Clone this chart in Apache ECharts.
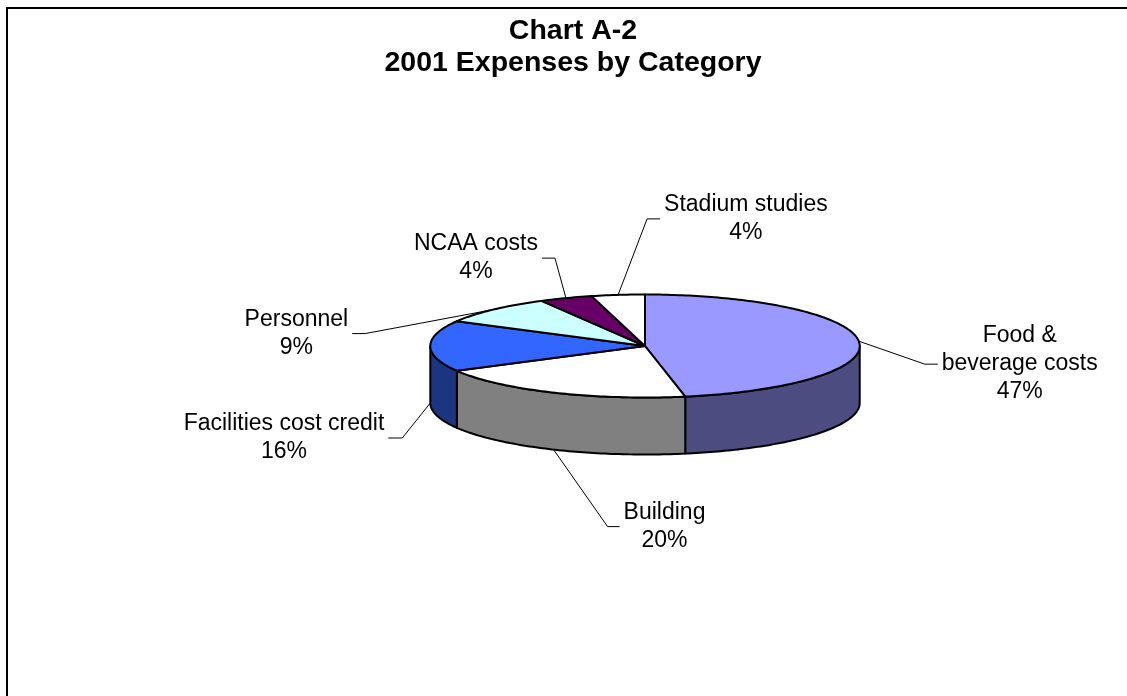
<!DOCTYPE html>
<html>
<head>
<meta charset="utf-8">
<script src="https://cdn.jsdelivr.net/npm/echarts@6/dist/echarts.min.js"></script>
<style>
  html, body { margin: 0; padding: 0; background: #fff; }
  #chart { width: 1127px; height: 696px; }
</style>
</head>
<body>
<div id="chart"></div>
<script>
// ---- data ----
const categories = ['Food &\nbeverage costs', 'Building', 'Facilities cost credit', 'Personnel', 'NCAA costs', 'Stadium studies'];
const values = [47, 20, 16, 9, 4, 4];
const titleLines = ['Chart A-2', '2001 Expenses by Category'];

// ---- styles ----
const topColors  = ['#9999FF', '#FFFFFF', '#3366FF', '#CCFFFF', '#660066', '#FFFFFF'];
const sideColors = ['#4C4C80', '#808080', '#1C3580', '#668080', '#330033', '#808080'];

// ---- layout ----
const PIE = { cx: 645, cy: 346, rx: 214.7, ry: 51.5, depth: 57 };
// leader anchor: on top rim or on the bottom rim of the side wall
const labelAnchor = ['top', 'bottom', 'bottom', 'top', 'top', 'top'];
// [elbow dx, elbow dy, tail dx]
const labelLeader = [[66, 23, 13], [54, 77, 12], [-28, 35, -14], [-128, 24, -13], [-11, -40, -13], [29, -76, 13]];
const FONT = '"Liberation Sans", Arial, sans-serif';
const LABEL_SIZE = 23;
const LABEL_LH = 28;

const total = values.reduce((a, b) => a + b, 0);
const measureCtx = document.createElement('canvas').getContext('2d');
measureCtx.font = LABEL_SIZE + 'px ' + FONT;

function pt(theta, dy) {
  return [PIE.cx + PIE.rx * Math.sin(theta), PIE.cy - PIE.ry * Math.cos(theta) + (dy || 0)];
}
function arc(a0, a1, dy) {
  const n = Math.max(2, Math.ceil(Math.abs(a1 - a0) / (Math.PI / 180)));
  const out = [];
  for (let k = 0; k <= n; k++) out.push(pt(a0 + (a1 - a0) * k / n, dy));
  return out;
}

function renderItem(params, api) {
  const i = params.dataIndex;
  let start = 0;
  for (let j = 0; j < i; j++) start += values[j];
  const v = api.value(0);
  const a0 = start / total * 2 * Math.PI;
  const a1 = (start + v) / total * 2 * Math.PI;
  const children = [];

  // visible outer side wall (front half: PI/2 .. 3PI/2 measured clockwise from 12 o'clock)
  const s0 = Math.max(a0, Math.PI / 2), s1 = Math.min(a1, 3 * Math.PI / 2);
  if (s1 > s0) {
    const pts = arc(s0, s1, 0).concat(arc(s1, s0, PIE.depth));
    children.push({
      type: 'polygon', z2: 1,
      shape: { points: pts },
      style: { fill: sideColors[i], stroke: '#000', lineWidth: 2, lineJoin: 'round' }
    });
  }
  // top face
  children.push({
    type: 'polygon', z2: 2,
    shape: { points: [[PIE.cx, PIE.cy]].concat(arc(a0, a1, 0)) },
    style: { fill: topColors[i], stroke: '#000', lineWidth: 2, lineJoin: 'round' }
  });

  // leader line
  const mid = (a0 + a1) / 2;
  const anchor = pt(mid, labelAnchor[i] === 'bottom' ? PIE.depth : 0);
  const L = labelLeader[i];
  const elbow = [anchor[0] + L[0], anchor[1] + L[1]];
  const tail = [elbow[0] + L[2], elbow[1]];
  children.push({
    type: 'polyline', z2: 3,
    shape: { points: [anchor, elbow, tail] },
    style: { stroke: '#000', lineWidth: 1, fill: null }
  });

  // label text (lines centred in block, like Excel)
  const text = categories[i] + '\n' + Math.round(v / total * 100) + '%';
  const w = Math.max.apply(null, text.split('\n').map(s => measureCtx.measureText(s).width));
  const dir = L[2] >= 0 ? 1 : -1;
  children.push({
    type: 'text', z2: 4,
    x: tail[0] + dir * (4 + w / 2),
    y: tail[1],
    style: {
      text: text, align: 'center', verticalAlign: 'middle',
      font: LABEL_SIZE + 'px ' + FONT, lineHeight: LABEL_LH, fill: '#000'
    }
  });

  return { type: 'group', children: children };
}

const chart = echarts.init(document.getElementById('chart'), null, { renderer: 'canvas' });
chart.setOption({
  animation: false,
  backgroundColor: '#fff',
  graphic: [
    { type: 'rect', shape: { x: 7, y: 8, width: 1200, height: 800 }, style: { fill: null, stroke: '#000', lineWidth: 2 }, silent: true },
    { type: 'text', x: 573, y: 15, style: { text: titleLines.join('\n'), align: 'center', verticalAlign: 'top',
      font: 'bold 28.5px ' + FONT, lineHeight: 32, fill: '#000' }, silent: true }
  ],
  series: [{
    type: 'custom',
    coordinateSystem: 'none',
    silent: true,
    data: values.map((v, i) => ({ value: [v], name: categories[i] })),
    renderItem: renderItem
  }]
});
</script>
</body>
</html>
